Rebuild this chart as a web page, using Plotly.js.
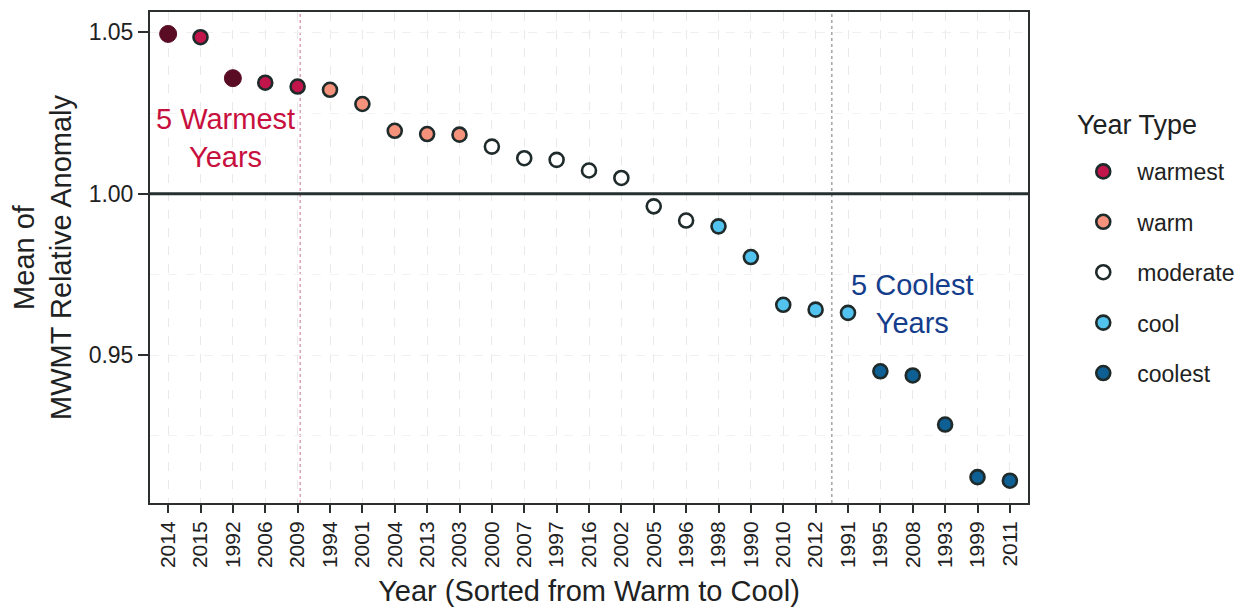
<!DOCTYPE html>
<html>
<head>
<meta charset="utf-8">
<script src="https://cdn.plot.ly/plotly-3.0.1.min.js"></script>
<style>
  html, body { margin: 0; padding: 0; background: #ffffff; }
  #chart { width: 1243px; height: 610px; }
</style>
</head>
<body>
<div id="chart"></div>
<script>
// Years sorted from warmest to coolest mean MWMT relative anomaly
const years = ['2014','2015','1992','2006','2009','1994','2001','2004','2013','2003',
               '2000','2007','1997','2016','2002','2005','1996','1998','1990','2010',
               '2012','1991','1995','2008','1993','1999','2011'];
const anomaly = [1.0495,1.0485,1.0358,1.0344,1.0332,1.0322,1.0278,1.0195,1.0185,1.0183,
                 1.0146,1.0110,1.0105,1.0072,1.0049,0.9961,0.9917,0.9899,0.9804,0.9656,
                 0.9641,0.9631,0.9450,0.9437,0.9285,0.9122,0.9111];
const yearType = ['warmest','warmest','warmest','warmest','warmest',
                  'warm','warm','warm','warm','warm',
                  'moderate','moderate','moderate','moderate','moderate','moderate','moderate',
                  'cool','cool','cool','cool','cool',
                  'coolest','coolest','coolest','coolest','coolest'];
// warmest years drawn as solid dark dots
const solidYears = ['2014','1992'];

const typeOrder = ['warmest','warm','moderate','cool','coolest'];
const typeFill = {
  warmest: '#c2154c',
  warm: '#f4927c',
  moderate: '#ffffff',
  cool: '#52c3ef',
  coolest: '#0d5f94'
};
const outline = '#1f2a2a';
const solidFill = '#5a0c24';

const traces = [];
typeOrder.forEach(function (t) {
  const idx = years.map(function (y, i) { return i; })
    .filter(function (i) { return yearType[i] === t && solidYears.indexOf(years[i]) < 0; });
  traces.push({
    type: 'scatter', mode: 'markers', name: t, legendgroup: t,
    x: idx.map(function (i) { return years[i]; }),
    y: idx.map(function (i) { return anomaly[i]; }),
    marker: { size: 14, color: typeFill[t], line: { color: outline, width: 2.6 } },
    hoverinfo: 'x+y'
  });
  const solid = years.map(function (y, i) { return i; })
    .filter(function (i) { return yearType[i] === t && solidYears.indexOf(years[i]) >= 0; });
  if (solid.length) {
    traces.push({
      type: 'scatter', mode: 'markers', name: t, legendgroup: t, showlegend: false,
      x: solid.map(function (i) { return years[i]; }),
      y: solid.map(function (i) { return anomaly[i]; }),
      marker: { size: 17, color: solidFill, line: { color: solidFill, width: 1 } },
      hoverinfo: 'x+y'
    });
  }
});

const font = '"Liberation Sans", Arial, Helvetica, sans-serif';
const ink = '#1e2222';

const layout = {
  width: 1243, height: 610,
  margin: { l: 150, r: 215, t: 12, b: 107, autoexpand: false },
  paper_bgcolor: '#ffffff', plot_bgcolor: '#ffffff',
  font: { family: font, color: ink },
  showlegend: true,
  legend: {
    x: 1.047, xanchor: 'left', y: 0.719, yanchor: 'top',
    font: { size: 23, color: ink },
    itemwidth: 58,
    tracegroupgap: 17.5,
    traceorder: 'grouped',
    bgcolor: 'rgba(0,0,0,0)'
  },
  xaxis: {
    type: 'category',
    categoryorder: 'array', categoryarray: years,
    range: [-0.56, 26.56],
    tickangle: -90,
    tickfont: { size: 21, color: ink },
    ticks: 'outside', ticklen: 8, tickwidth: 2, tickcolor: '#2b2f2f',
    showline: true, linecolor: '#2b2f2f', linewidth: 2, mirror: true,
    showgrid: true, gridcolor: '#e9e9e9', gridwidth: 1, griddash: 'dash',
    zeroline: false,
    title: { text: 'Year (Sorted from Warm to Cool)', font: { size: 29, color: ink }, standoff: 14 }
  },
  yaxis: {
    range: [0.9042, 1.0563],
    tickvals: [0.95, 1.00, 1.05],
    ticktext: ['0.95', '1.00', '1.05'],
    tickfont: { size: 23, color: ink },
    ticks: 'outside', ticklen: 10, tickwidth: 2, tickcolor: '#2b2f2f',
    showline: true, linecolor: '#2b2f2f', linewidth: 2, mirror: true,
    showgrid: true, gridcolor: '#f0f0f0', gridwidth: 1, griddash: 'dash',
    minor: { tickvals: [0.925, 0.975, 1.025], showgrid: true, gridcolor: '#f3f3f3', griddash: 'dash', ticks: '' },
    zeroline: false,
    title: { text: 'Mean of<br>MWMT Relative Anomaly', font: { size: 29, color: ink }, standoff: 8 }
  },
  shapes: [
    { type: 'line', xref: 'x', x0: 4.08, x1: 4.08, yref: 'paper', y0: 0, y1: 1,
      line: { color: '#dca2b2', width: 1.5, dash: 'dot' }, layer: 'below' },
    { type: 'line', xref: 'x', x0: 20.5, x1: 20.5, yref: 'paper', y0: 0, y1: 1,
      line: { color: '#a3a3a3', width: 1.5, dash: 'dot' }, layer: 'below' },
    { type: 'line', xref: 'paper', x0: 0, x1: 1, yref: 'y', y0: 1.0, y1: 1.0,
      line: { color: '#263030', width: 3 }, layer: 'above' }
  ],
  annotations: [
    { xref: 'x', yref: 'y', x: 1.76, y: 1.0173, text: '5 Warmest<br>Years',
      showarrow: false, align: 'center', font: { size: 29, color: '#c8103e' } },
    { xref: 'x', yref: 'y', x: 22.98, y: 0.966, text: '5 Coolest<br>Years',
      showarrow: false, align: 'center', font: { size: 29, color: '#143d8c' } },
    { xref: 'paper', yref: 'paper', x: 1.0535, xanchor: 'left', y: 0.770, yanchor: 'middle',
      text: 'Year Type', showarrow: false, font: { size: 27, color: ink } }
  ]
};

Plotly.newPlot('chart', traces, layout, { displayModeBar: false, staticPlot: true });
</script>
</body>
</html>
